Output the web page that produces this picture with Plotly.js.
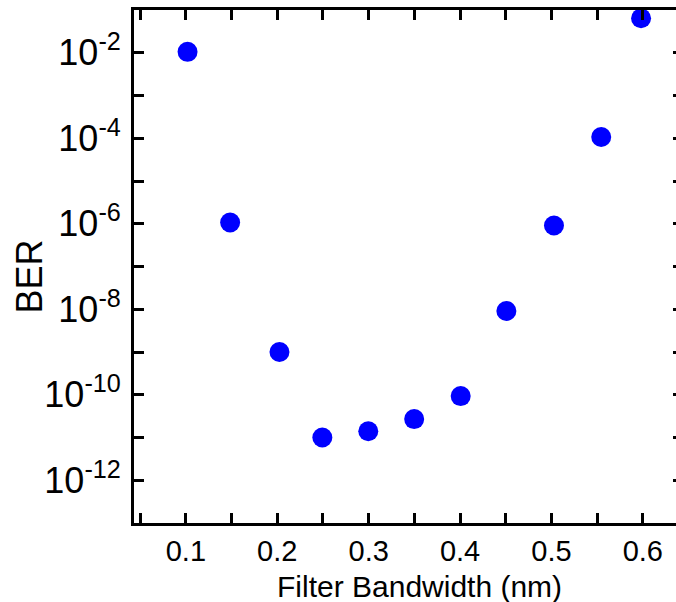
<!DOCTYPE html>
<html>
<head>
<meta charset="utf-8">
<script src="https://cdn.plot.ly/plotly-3.0.1.min.js"></script>
<style>
html,body{margin:0;padding:0;overflow:hidden;background:#fff;}
#chart{width:690px;height:602px;}
</style>
</head>
<body>
<div id="chart"></div>
<script>
const bandwidth = [0.1018, 0.1484, 0.2024, 0.2493, 0.2996, 0.3498, 0.4007, 0.4507, 0.5028, 0.5545, 0.5981];
const ber = [1.05e-2, 1.07e-6, 1.0e-9, 1.0e-11, 1.4e-11, 2.7e-11, 9.3e-11, 9.1e-9, 9.1e-7, 1.07e-4, 6.4e-2];
const yTickExp = [-13, -12, -11, -10, -9, -8, -7, -6, -5, -4, -3, -2, -1];
const xTickVals = [0.05, 0.1, 0.15, 0.2, 0.25, 0.3, 0.35, 0.4, 0.45, 0.5, 0.55, 0.6];
const xTickText = ['', '0.1', '', '0.2', '', '0.3', '', '0.4', '', '0.5', '', '0.6'];
const xTitle = 'Filter Bandwidth (nm)';
const yTitle = 'BER';

const yTickVals = yTickExp.map(e => Math.pow(10, e));
const yTickText = yTickExp.map(e => (e % 2 === 0) ? '10<sup>' + e + '</sup>' : '');

const font = 'Liberation Sans, Arial, sans-serif';

const trace = {
  x: bandwidth, y: ber, type: 'scatter', mode: 'markers',
  marker: {color: '#0000ff', size: 20},
  cliponaxis: false, hoverinfo: 'x+y'
};

const layout = {
  width: 690, height: 602,
  margin: {l: 134, r: 7, t: 10, b: 79},
  paper_bgcolor: '#fff', plot_bgcolor: '#fff',
  showlegend: false,
  font: {family: font, color: '#000'},
  xaxis: {
    range: [0.0432, 0.644], tickmode: 'array', tickvals: xTickVals, ticktext: xTickText,
    ticks: 'inside', ticklen: 10, tickwidth: 3, tickcolor: '#000',
    showline: true, linewidth: 3, linecolor: '#000', mirror: 'allticks',
    showgrid: false, zeroline: false,
    tickfont: {size: 29, family: font}, ticklabelstandoff: 0
  },
  yaxis: {
    type: 'log', range: [-13, -1], tickmode: 'array', tickvals: yTickVals, ticktext: yTickText,
    ticks: 'inside', ticklen: 10, tickwidth: 3, tickcolor: '#000',
    showline: true, linewidth: 3, linecolor: '#000', mirror: 'allticks',
    showgrid: false, zeroline: false,
    tickfont: {size: 36, family: font}, ticklabelstandoff: 3
  },
  annotations: [
    {text: xTitle, xref: 'paper', yref: 'paper', x: 0.52, y: -0.123, xanchor: 'center', yanchor: 'middle',
     showarrow: false, font: {size: 30, family: font}},
    {text: yTitle, xref: 'paper', yref: 'paper', x: -0.19, y: 0.48, xanchor: 'center', yanchor: 'middle',
     textangle: -90, showarrow: false, font: {size: 36, family: font}}
  ]
};

Plotly.newPlot('chart', [trace], layout, {displayModeBar: false, staticPlot: true});
</script>
</body>
</html>
